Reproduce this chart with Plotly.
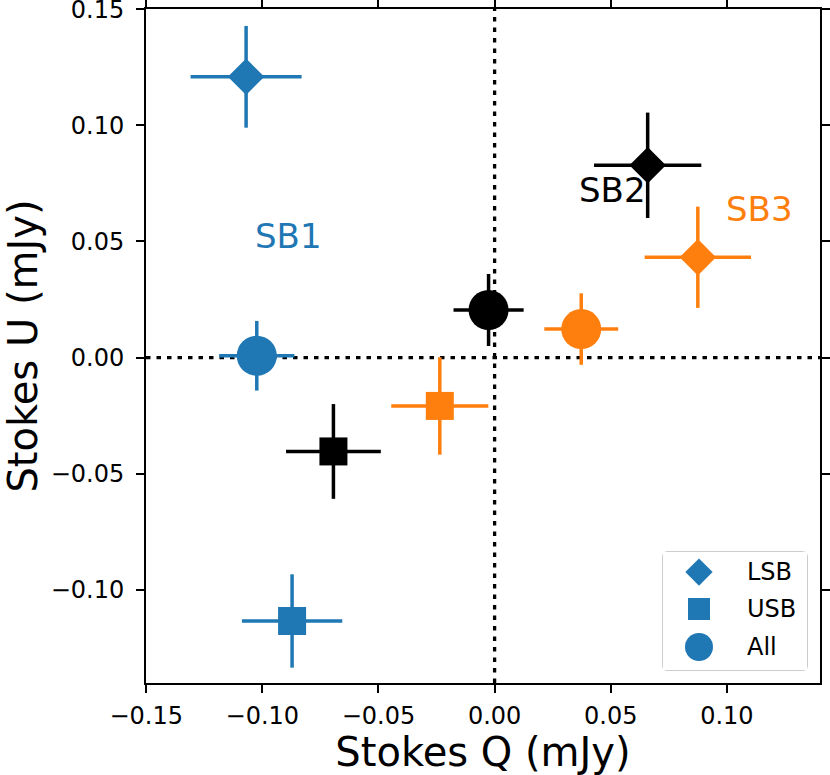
import plotly.graph_objects as go

# Stokes Q / U (mJy) per sideband, order: LSB, USB, All
bands = ["LSB", "USB", "All"]
sb_names = ["SB1", "SB2", "SB3"]
sb_colors = ["#1f77b4", "black", "#ff7f0e"]

q_sb1 = [-0.1070, -0.0872, -0.1024]
u_sb1 = [0.1209, -0.1134, 0.0008]
dq_sb1 = [0.0239, 0.0216, 0.0162]
du_sb1 = [0.0219, 0.0201, 0.0150]

q_sb2 = [0.0659, -0.0694, -0.0026]
u_sb2 = [0.0828, -0.0404, 0.0205]
dq_sb2 = [0.0231, 0.0204, 0.0151]
du_sb2 = [0.0227, 0.0204, 0.0155]

q_sb3 = [0.0875, -0.0236, 0.0373]
u_sb3 = [0.0432, -0.0208, 0.0123]
dq_sb3 = [0.0229, 0.0209, 0.0159]
du_sb3 = [0.0218, 0.0210, 0.0154]

x_ticks = [-0.15, -0.10, -0.05, 0.00, 0.05, 0.10]
y_ticks = [-0.10, -0.05, 0.00, 0.05, 0.10, 0.15]

series = [
    (q_sb1, u_sb1, dq_sb1, du_sb1),
    (q_sb2, u_sb2, dq_sb2, du_sb2),
    (q_sb3, u_sb3, dq_sb3, du_sb3),
]

symbols = {"LSB": "diamond", "USB": "square", "All": "circle"}
sizes = {"LSB": 28, "USB": 28, "All": 40}
leg_sizes = {"LSB": 21, "USB": 22, "All": 28}

FONT = "DejaVu Sans"
W, H = 830, 775
ML, MR, MT, MB = 146, 10, 9, 92

fig = go.Figure()

for name, color, (q, u, dq, du) in zip(sb_names, sb_colors, series):
    for i, band in enumerate(bands):
        fig.add_trace(go.Scatter(
            x=[q[i]], y=[u[i]], mode="markers", name=f"{name} {band}",
            showlegend=False,
            marker=dict(symbol=symbols[band], size=sizes[band], color=color,
                        line=dict(width=0)),
            error_x=dict(type="data", array=[dq[i]], color=color,
                         thickness=3.5, width=0),
            error_y=dict(type="data", array=[du[i]], color=color,
                         thickness=3.5, width=0),
        ))

# hand-made legend (plotly caps legend marker size at 16px)
leg_y = [0.83, 0.517, 0.195]
for band, ly in zip(bands, leg_y):
    fig.add_trace(go.Scatter(
        x=[0.25], y=[ly], mode="markers", xaxis="x2", yaxis="y2",
        showlegend=False, hoverinfo="skip",
        marker=dict(symbol=symbols[band], size=leg_sizes[band],
                    color=sb_colors[0], line=dict(width=0)),
    ))
    fig.add_annotation(x=0.57, y=ly, xref="x2", yref="y2", text=band,
                       showarrow=False, xanchor="left", yanchor="middle",
                       font=dict(family=FONT, size=24, color="black"))

# SB labels
label_pos = [(-0.0889, 0.0524), (0.0507, 0.0720), (0.1140, 0.0640)]
for name, color, (lx, ly) in zip(sb_names, sb_colors, label_pos):
    fig.add_annotation(x=lx, y=ly, text=name, showarrow=False,
                       xanchor="center", yanchor="middle",
                       font=dict(family=FONT, size=34, color=color))

# dotted zero lines
dot = dict(color="black", width=3.3, dash="4.5px,6px")
fig.add_shape(type="line", xref="x", yref="paper", x0=0, x1=0, y0=0, y1=1,
              line=dot, layer="below")
fig.add_shape(type="line", xref="paper", yref="y", x0=0, x1=1, y0=0, y1=0,
              line=dot, layer="below")

# legend frame with rounded corners, in paper coords
pw, ph = W - ML - MR, H - MT - MB
def px_x(v):
    return (v - ML) / pw
def px_y(v):
    return (H - MB - v) / ph
x0, x1 = px_x(663), px_x(807)
y0, y1 = px_y(670), px_y(552)
r = 5 / pw
path = (f"M {x0 + r},{y0} L {x1 - r},{y0} Q {x1},{y0} {x1},{y0 + r} "
        f"L {x1},{y1 - r} Q {x1},{y1} {x1 - r},{y1} L {x0 + r},{y1} "
        f"Q {x0},{y1} {x0},{y1 - r} L {x0},{y0 + r} Q {x0},{y0} {x0 + r},{y0} Z")
fig.add_shape(type="path", xref="paper", yref="paper", path=path,
              line=dict(color="#cccccc", width=2), fillcolor="white",
              layer="below")

axis_common = dict(
    showgrid=False, zeroline=False, showline=True, linecolor="black",
    linewidth=2, mirror="ticks", ticks="outside", ticklen=8, tickwidth=2,
    tickcolor="black", tickformat=".2f", automargin=False,
    ticklabeloverflow="allow",
    tickfont=dict(family=FONT, size=24, color="black"),
)

fig.update_layout(
    width=W, height=H,
    margin=dict(l=ML, r=MR, t=MT, b=MB),
    plot_bgcolor="white", paper_bgcolor="white",
    font=dict(family=FONT, color="black"),
    xaxis=dict(range=[-0.1501, 0.1401], tickvals=x_ticks,
               ticklabelstandoff=2,
               title=dict(text="Stokes Q (mJy)", standoff=4,
                          font=dict(family=FONT, size=40)),
               **axis_common),
    yaxis=dict(range=[-0.1401, 0.1501], tickvals=y_ticks,
               ticklabelstandoff=7,
               title=dict(text="Stokes U (mJy)", standoff=5,
                          font=dict(family=FONT, size=40)),
               **axis_common),
    xaxis2=dict(domain=[x0, x1], range=[0, 1], anchor="y2", visible=False,
                fixedrange=True),
    yaxis2=dict(domain=[y0, y1], range=[0, 1], anchor="x2", visible=False,
                fixedrange=True),
    showlegend=False,
)

fig.write_html("out.html", config={"displayModeBar": False},
               post_script="document.body.style.margin='0px';")
